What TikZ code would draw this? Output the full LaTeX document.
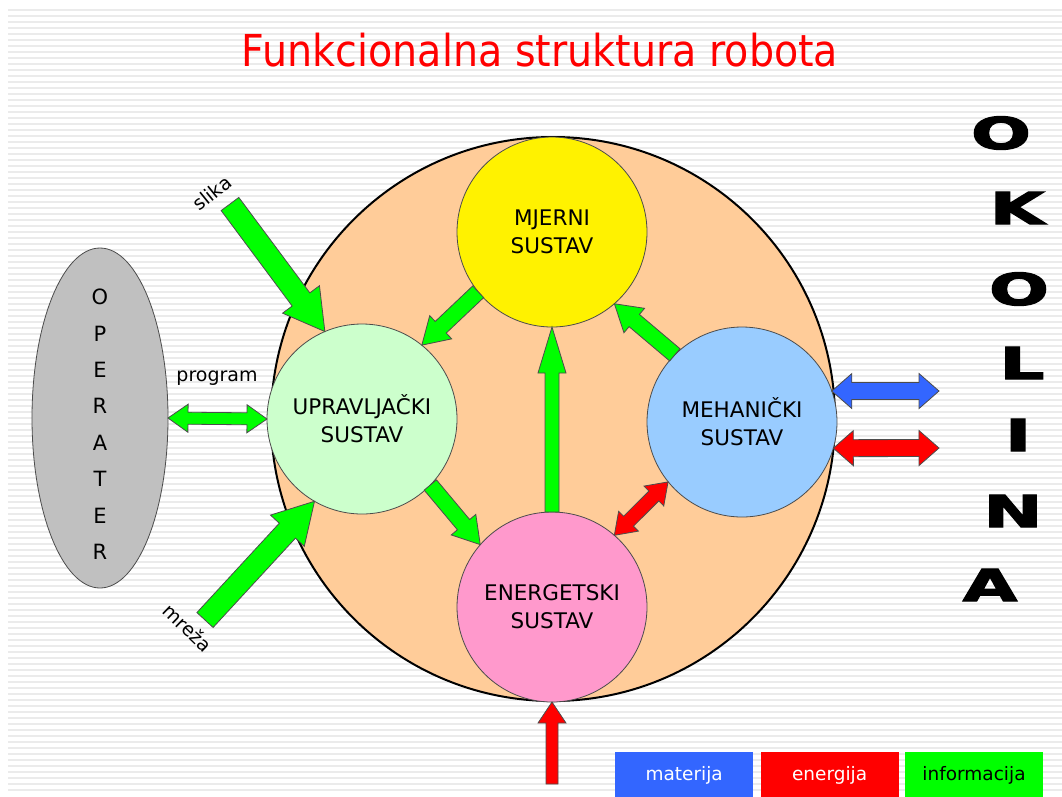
\documentclass[tikz,border=0pt]{standalone}
\usepackage{fontspec}
\setmainfont{DejaVu Sans}
\newfontface\wallface{DejaVu Sans Bold}[FakeBold=2.5]
\usepackage{tikz}
\usetikzlibrary{positioning,calc,shapes.geometric}

\definecolor{peach}{HTML}{FFCC99}
\definecolor{pastelgreen}{HTML}{CCFFCC}
\definecolor{skyblue}{HTML}{99CCFF}
\definecolor{rosepink}{HTML}{FF99CC}
\definecolor{infogreen}{HTML}{00FF00}
\definecolor{matblue}{HTML}{3366FF}
\definecolor{enred}{HTML}{FF0000}
\definecolor{opgray}{HTML}{C0C0C0}
\definecolor{stripegray}{HTML}{EBEBEB}

\newcommand{\blockarrow}[6]{%
  \path let \p1=($(#3)-(#2)$), \n1={atan2(\y1,\x1)}, \n2={veclen(\x1,\y1)} in
    \pgfextra{\xdef\arrang{\n1}\xdef\arrlen{\n2}};
  \begin{scope}[shift={(#2)}, rotate=\arrang]
    \filldraw[fill=#1, draw=black!70, line width=0.8pt]
      (0,-#4) -- ({\arrlen-#6},-#4) -- ({\arrlen-#6},-#5) -- (\arrlen,0)
      -- ({\arrlen-#6},#5) -- ({\arrlen-#6},#4) -- (0,#4) -- cycle;
  \end{scope}}
\newcommand{\twinarrow}[6]{%
  \path let \p1=($(#3)-(#2)$), \n1={atan2(\y1,\x1)}, \n2={veclen(\x1,\y1)} in
    \pgfextra{\xdef\arrang{\n1}\xdef\arrlen{\n2}};
  \begin{scope}[shift={(#2)}, rotate=\arrang]
    \filldraw[fill=#1, draw=black!70, line width=0.8pt]
      (0,0) -- (#6,-#5) -- (#6,-#4) -- ({\arrlen-#6},-#4) -- ({\arrlen-#6},-#5)
      -- (\arrlen,0) -- ({\arrlen-#6},#5) -- ({\arrlen-#6},#4) -- (#6,#4)
      -- (#6,#5) -- cycle;
  \end{scope}}

\begin{document}
\begin{tikzpicture}[x=1pt, y=-1pt,
  unit/.style={circle, draw=black!70, line width=0.8pt, minimum size=190pt,
    inner sep=0pt, outer sep=0pt, align=center, font=\fontsize{21.5}{28}\selectfont},
  label/.style={font=\fontsize{19}{19}\selectfont, inner sep=1pt},
  oplet/.style={font=\fontsize{21}{21}\selectfont},
  wallletter/.style={font=\fontsize{44}{44}\wallface},
  legendbox/.style={minimum width=138pt, minimum height=46pt, inner sep=0pt,
    font=\fontsize{18.5}{22}\selectfont}]
\useasboundingbox (0,0) rectangle (1062,796);
\fill[white] (0,0) rectangle (1062,796);
\foreach \k in {0,...,130}
  \draw[stripegray, line width=1.3pt] (8,{10+6*\k}) -- (1062,{10+6*\k});

\node[text=enred, anchor=base] (title) at (540,66)
  {\fontsize{44}{44}\selectfont\scalebox{0.9}[1]{Funkcionalna struktura robota}};

\node[circle, fill=peach, draw=black, line width=2pt, minimum size=564pt,
  inner sep=0pt, outer sep=0pt] (robot) at (553,419) {};
\node[ellipse, fill=opgray, draw=black!70, line width=0.8pt, minimum width=136pt,
  minimum height=340pt, inner sep=0pt, outer sep=0pt] (oper) at (100,418) {};
\foreach \ch [count=\i from 0] in {O,P,E,R,A,T,E,R}
  \node[oplet] (operl\i) at (100,{297+36.4*\i}) {\ch};

\node[unit, fill=yellow] (meas) at (552,232) {MJERNI\\SUSTAV};
\node[unit, fill=pastelgreen] (ctrl) at (362,419) {UPRAVLJAČKI\\SUSTAV};
\node[unit, fill=skyblue] (mech) at (742,422) {MEHANIČKI\\SUSTAV};
\node[unit, fill=rosepink] (ener) at (552,607) {ENERGETSKI\\SUSTAV};

\coordinate (slikain) at (230,204);
\coordinate (mrezain) at (205,620);
\coordinate (matout) at (939,391);
\coordinate (enout) at (939,448);
\coordinate (enin) at (552,784);

\blockarrow{infogreen}{slikain}{ctrl.113}{11}{23}{40}
\blockarrow{infogreen}{mrezain}{ctrl.240}{11}{23}{40}
\twinarrow{infogreen}{oper.east}{ctrl.west}{6}{14}{20}
\blockarrow{infogreen}{meas.219}{ctrl.51}{8}{16}{26}
\blockarrow{infogreen}{ctrl.-44}{ener.139}{8}{16}{26}
\blockarrow{infogreen}{ener.north}{meas.south}{7}{14}{46}
\blockarrow{infogreen}{mech.135}{meas.-49}{8}{16}{26}
\twinarrow{enred}{ener.49}{mech.219}{7}{14}{20}
\twinarrow{matblue}{mech.19}{matout}{8.5}{17.5}{20}
\twinarrow{enred}{mech.-16}{enout}{8.5}{17.5}{20}
\blockarrow{enred}{enin}{ener.south}{6}{14}{21}

\node[label, rotate=39] (slika) at (212,193) {slika};
\node[label, rotate=-44] (mreza) at (188,628) {mreža};
\node[label] (prog) at (217,378) {program};

\foreach \ch/\xx/\yy [count=\i] in {O/1001/133, K/1017/208, O/1019/289,
    L/1022/363, I/1018/435, N/1013/511, A/990/585}
  \node[wallletter] (env\i) at (\xx,\yy) {\scalebox{1.6}[1]{\ch}};

\node[legendbox, fill=matblue, text=white, anchor=north west] (legmat) at (615,752) {materija};
\node[legendbox, fill=enred, text=white, right=7pt of legmat] (legen) {energija};
\node[legendbox, fill=infogreen, right=6pt of legen] (leginfo) {informacija};
\end{tikzpicture}
\end{document}
